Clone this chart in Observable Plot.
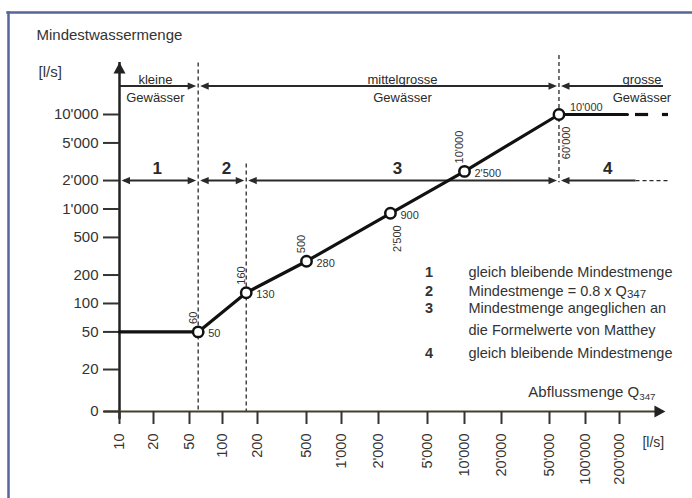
<!DOCTYPE html>
<html><head><meta charset="utf-8">
<script src="https://cdn.jsdelivr.net/npm/d3@7"></script>
<script src="https://cdn.jsdelivr.net/npm/@observablehq/plot@0.6"></script>
<style>
html,body{margin:0;padding:0;background:#fff;overflow:hidden;}
#chart{width:692px;height:498px;overflow:hidden;position:relative;}
</style></head><body><div id="chart"></div>
<script>
// ---------------- data ----------------
const xTicks = [10,20,50,100,200,500,1000,2000,5000,10000,20000,50000,100000,200000];
const xTickLabels = ["10","20","50","100","200","500","1'000","2'000","5'000","10'000","20'000","50'000","100'000","200'000"];
const Y_ORIGIN = 7.19; // value at the axis crossing, labelled "0"
const yTicks = [Y_ORIGIN,20,50,100,200,500,1000,2000,5000,10000];
const yTickLabels = ["0","20","50","100","200","500","1'000","2'000","5'000","10'000"];

const pointX = [60,160,500,2500,10000,60000];
const pointY = [50,130,280,900,2500,10000];
const pointXLabels = ["60","160","500","2'500","10'000","60'000"];
const pointYLabels = ["50","130","280","900","2'500","10'000"];
const xLabelSide = ["above","above","above","below","above","below"];

const lineStartX = 10, lineEndX = 235000;
const tailDashes = [[277000,362000],[480000,543000]];

const boundaries = [60,160,60000];
const boundaryTop = [35000,3000,42000];
const boundaryBottom = [Y_ORIGIN,Y_ORIGIN,1900];

const classNames = ["kleine\nGewässer","mittelgrosse\nGewässer","grosse\nGewässer"];
const classFrom = [10,60,60000];
const classTo = [60,60000,490000];
const classLabelX = [21,3130,316000];
const CLASS_ROW_Y = 20000;

const regionNames = ["1","2","3","4"];
const regionFrom = [10,60,160,60000];
const regionTo = [60,160,60000,280000];
const regionLabelX = [22,108,2850,157000];
const REGION_ROW_Y = 2000;
const regionTailTo = 540000;

const legendKeys = ["1","2","3","","4"];
const legendTexts = ["gleich bleibende Mindestmenge","Mindestmenge = 0.8 x Q_347","Mindestmenge angeglichen an","die Formelwerte von Matthey","gleich bleibende Mindestmenge"];
const legendY = [213,135,88,52,30];

// ---------------- drawing ----------------
const FONT = "'Liberation Sans', Arial, Helvetica, sans-serif";
const INK = "#2a2a2a";
const TXT = "#333";
const xMap = new Map(xTicks.map((d,i)=>[d,xTickLabels[i]]));
const yMap = new Map(yTicks.map((d,i)=>[d,yTickLabels[i]]));
const points = pointX.map((x,i)=>({x, y:pointY[i], xl:pointXLabels[i], yl:pointYLabels[i], side:xLabelSide[i]}));
const curve = [{x:lineStartX,y:pointY[0]}, ...points, {x:lineEndX,y:pointY[pointY.length-1]}];

const HEAD_R = {draw(c){c.moveTo(0,0);c.lineTo(-8.5,-3.6);c.lineTo(-8.5,3.6);c.closePath();}};
const HEAD_L = {draw(c){c.moveTo(0,0);c.lineTo(8.5,-3.6);c.lineTo(8.5,3.6);c.closePath();}};
const AXIS_UP = {draw(c){c.moveTo(0,0);c.lineTo(-6,11);c.lineTo(6,11);c.closePath();}};
const AXIS_RIGHT = {draw(c){c.moveTo(0,0);c.lineTo(-11,-6);c.lineTo(-11,6);c.closePath();}};

function segment(a, b, y, headL, headR) {
  const m = [Plot.ruleY([y], {y: d=>d, x1: ()=>a, x2: ()=>b, stroke: INK, strokeWidth: 2,
    insetLeft: headL ? 5 : 0, insetRight: headR ? 5 : 0})];
  if (headL) m.push(Plot.dot([y], {x: ()=>a, y: d=>d, symbol: HEAD_L, fill: INK, dx: 2}));
  if (headR) m.push(Plot.dot([y], {x: ()=>b, y: d=>d, symbol: HEAD_R, fill: INK, dx: -2}));
  return m;
}

const marks = [
  Plot.frame({anchor:"left", stroke:"#56659b", strokeWidth:2.5, insetLeft:-111, insetTop:0, insetBottom:-100}),
  Plot.frame({anchor:"top", stroke:"#56659b", strokeWidth:2.5, insetLeft:-112, insetTop:0, insetRight:-100}),
  Plot.ruleX(boundaries.map((x,i)=>({x, y1:boundaryTop[i], y2:boundaryBottom[i]})),
    {x:"x", y1:"y1", y2:"y2", stroke:INK, strokeWidth:1.3, strokeDasharray:"4,3"}),
  // class row
  ...classNames.map((n,i)=>segment(classFrom[i], classTo[i], CLASS_ROW_Y, i>0, i<classNames.length-1)),
  Plot.text(classNames, {x:(d,i)=>classLabelX[i], y:()=>CLASS_ROW_Y, text:d=>d, fontSize:13, lineHeight:1.385,
    lineAnchor:"middle", dy:1, fill:INK, fontFamily:FONT}),
  // region row
  ...regionNames.map((n,i)=>segment(regionFrom[i], regionTo[i], REGION_ROW_Y, true, i<regionNames.length-1)),
  Plot.ruleY([REGION_ROW_Y], {y:d=>d, x1:()=>regionTo[regionTo.length-1], x2:()=>regionTailTo, stroke:INK, strokeWidth:1.3, strokeDasharray:"4,3"}),
  Plot.text(regionNames, {x:(d,i)=>regionLabelX[i], y:()=>REGION_ROW_Y, text:d=>d, fontSize:17, fontWeight:"bold",
    lineAnchor:"bottom", dy:-7, fill:INK, fontFamily:FONT}),
  // axes lines and arrows
  Plot.ruleX([10], {x:d=>d, y1:()=>Y_ORIGIN, y2:()=>35500, insetTop:8, stroke:"#222", strokeWidth:2.5}),
  Plot.dot([10], {x:d=>d, y:()=>35500, symbol:AXIS_UP, fill:"#222"}),
  Plot.ruleY([Y_ORIGIN], {y:d=>d, x1:()=>10, x2:()=>510000, insetLeft:-15, insetRight:8, stroke:"#45402a", strokeWidth:2.2}),
  Plot.dot([Y_ORIGIN], {y:d=>d, x:()=>510000, symbol:AXIS_RIGHT, fill:"#222"}),
  // ticks and tick labels
  Plot.ruleY(yTicks, {y:d=>d, x1:()=>10, x2:()=>10, insetLeft:-16, stroke:"#333", strokeWidth:2}),
  Plot.text(yTicks, {y:d=>d, frameAnchor:"left", text:d=>yMap.get(d), textAnchor:"end", lineAnchor:"middle",
    dx:-21, fontSize:15, fill:TXT, fontFamily:FONT}),
  Plot.ruleX(xTicks, {x:d=>d, y1:()=>Y_ORIGIN, y2:()=>Y_ORIGIN, insetBottom:-13, stroke:"#333", strokeWidth:2}),
  Plot.text(xTicks, {x:d=>d, frameAnchor:"bottom", text:d=>xMap.get(d), rotate:-90, textAnchor:"end", lineAnchor:"middle",
    dy:22, fontSize:14.5, fill:TXT, fontFamily:FONT}),
  Plot.text(["Mindestwassermenge"], {x:()=>1.84, y:()=>68500, text:d=>d, textAnchor:"start", lineAnchor:"middle", fontSize:15, fill:TXT, fontFamily:FONT}),
  Plot.text(["[l/s]"], {x:()=>1.92, y:()=>27800, text:d=>d, textAnchor:"start", lineAnchor:"middle", fontSize:15, fill:TXT, fontFamily:FONT}),
  Plot.text(["Abflussmenge Q_347"], {x:()=>417000, y:()=>11.4, text:d=>d, textAnchor:"end", lineAnchor:"middle", fontSize:15, fill:TXT, fontFamily:FONT}),
  Plot.text(["[l/s]"], {x:()=>319000, y:()=>3.38, text:d=>d, textAnchor:"start", lineAnchor:"middle", fontSize:14, fill:TXT, fontFamily:FONT}),
  // curve
  Plot.line(curve, {x:"x", y:"y", stroke:"#111", strokeWidth:3.2}),
  Plot.ruleY(tailDashes, {y:()=>pointY[pointY.length-1], x1:d=>d[0], x2:d=>d[1], stroke:"#111", strokeWidth:3.2}),
  Plot.dot(points, {x:"x", y:"y", r:5.2, fill:"white", stroke:"#111", strokeWidth:2.5}),
  Plot.text(points, {filter:(d,i)=>i<points.length-1, x:"x", y:"y", text:"yl", textAnchor:"start", lineAnchor:"middle", dx:10, dy:2, fontSize:11, fill:TXT, fontFamily:FONT}),
  Plot.text(points, {filter:(d,i)=>i===points.length-1, x:"x", y:"y", text:"yl", textAnchor:"start", lineAnchor:"middle", dx:11, dy:-7, fontSize:11, fill:TXT, fontFamily:FONT}),
  Plot.text(points, {filter:d=>d.side==="above", x:"x", y:"y", text:"xl", rotate:-90, textAnchor:"start", lineAnchor:"middle", dx:-5, dy:-8, fontSize:11, fill:TXT, fontFamily:FONT}),
  Plot.text(points, {filter:d=>d.side==="below", x:"x", y:"y", text:"xl", rotate:-90, textAnchor:"end", lineAnchor:"middle", dx:7, dy:12, fontSize:11, fill:TXT, fontFamily:FONT}),
  // legend
  Plot.text(legendKeys, {x:()=>5150, y:(d,i)=>legendY[i], text:d=>d, textAnchor:"middle", lineAnchor:"middle", fontSize:14.5, fontWeight:"bold", fill:TXT, fontFamily:FONT}),
  Plot.text(legendTexts, {x:()=>10780, y:(d,i)=>legendY[i], text:d=>d, textAnchor:"start", lineAnchor:"middle", fontSize:14.5, fill:TXT, fontFamily:FONT})
];

const chart = Plot.plot({
  width: 692, height: 498,
  marginLeft: 119, marginRight: 73, marginTop: 12, marginBottom: 87,
  style: {fontFamily: FONT, background: "#fff", overflow: "hidden"},
  x: {type: "log", domain: xTicks, range: [119,153,189,222,257,306,341,378,427,464,501,549,585,619], axis: null},
  y: {type: "log", domain: [Y_ORIGIN, 10000], range: [411, 114], axis: null},
  marks
});

// subscripts
chart.querySelectorAll("text").forEach(t => {
  if (t.childElementCount === 0 && t.textContent.includes("_347")) {
    const axisLabel = t.textContent.includes("Abfluss");
    const [a] = t.textContent.split("_347");
    t.textContent = a;
    const ts = document.createElementNS("http://www.w3.org/2000/svg", "tspan");
    ts.setAttribute("dy", axisLabel ? "0.3em" : "0.22em");
    ts.setAttribute("font-size", axisLabel ? "0.65em" : "0.8em");
    ts.textContent = "347";
    t.appendChild(ts);
  }
});
document.getElementById("chart").appendChild(chart);
</script></body></html>
